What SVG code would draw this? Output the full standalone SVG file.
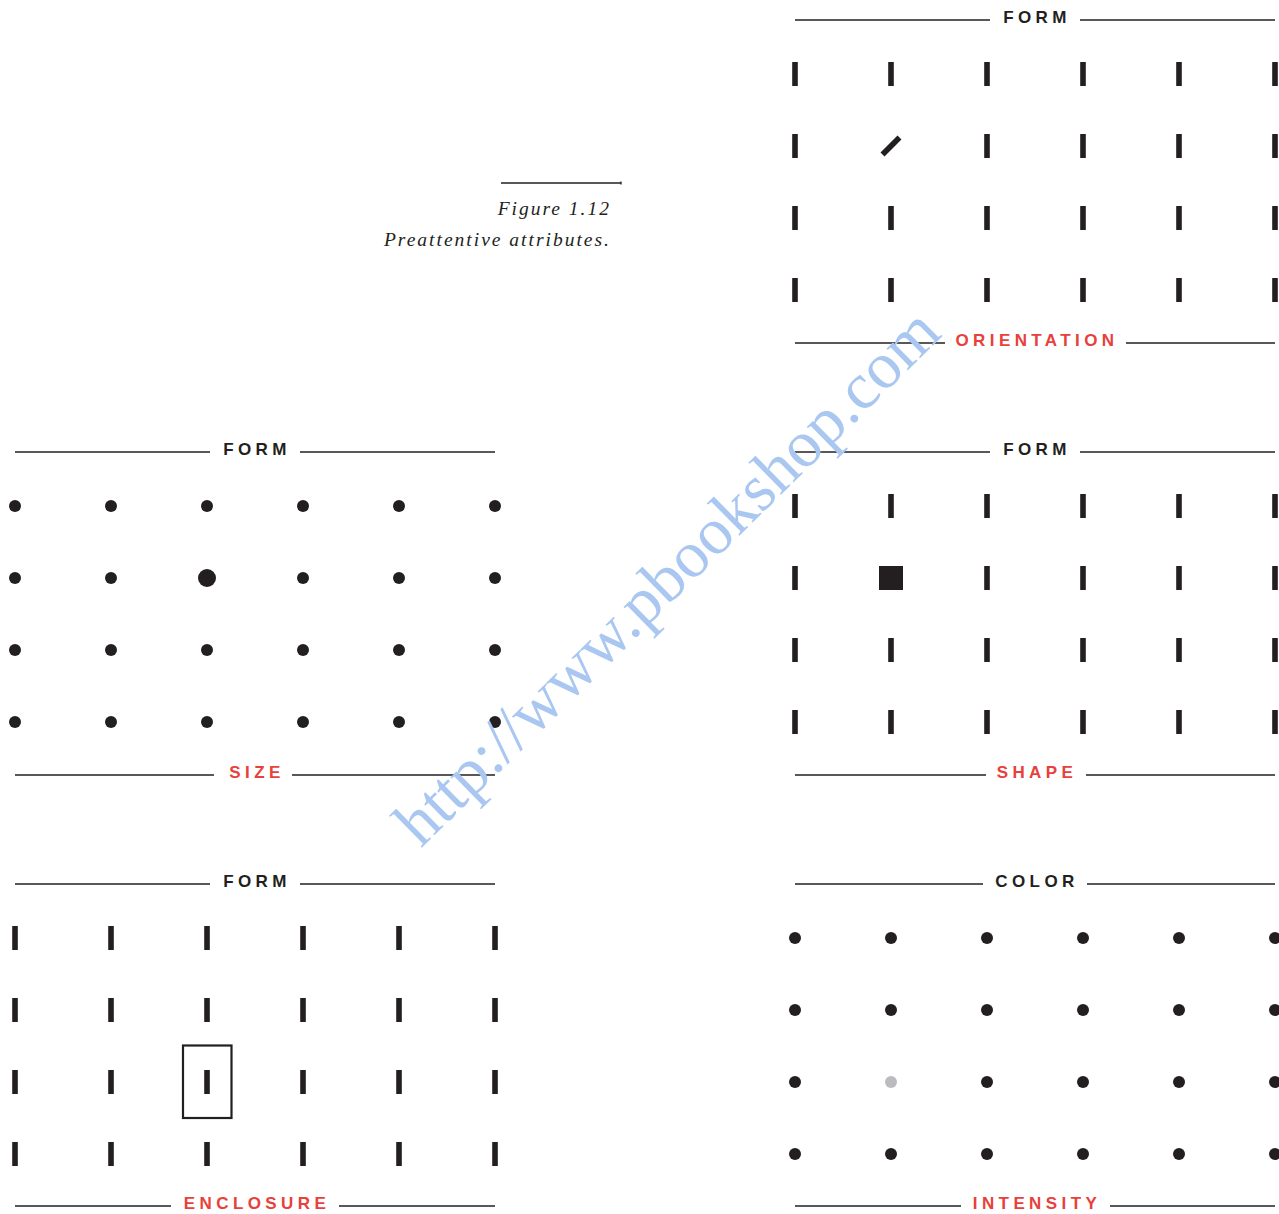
<svg xmlns="http://www.w3.org/2000/svg" xmlns:xlink="http://www.w3.org/1999/xlink" width="1279" height="1214" viewBox="0 0 1279 1214">
<style>
.ln{stroke:#231f20;stroke-width:1.3;fill:none}
.ttl{font-family:"Liberation Sans",Arial,sans-serif;font-size:17px;font-weight:bold;letter-spacing:4.4px;fill:#231f20;text-anchor:middle}
.red{fill:#e8403a}
.cap{font-family:"Liberation Serif","Times New Roman",serif;font-style:italic;font-size:19.5px;letter-spacing:2px;fill:#231f20;text-anchor:end}
.wm{font-family:"Liberation Serif","Times New Roman",serif;font-size:66px;fill:#a9c7f0;text-anchor:middle}
</style>
<defs>
<rect id="bar" x="-2.8" y="-12" width="5.6" height="24" fill="#231f20"/>
<circle id="dot" r="6" fill="#231f20"/>
</defs>
<rect width="1279" height="1214" fill="#ffffff"/>

<g id="caption">
<line class="ln" x1="501" y1="183" x2="621" y2="183"/>
<line class="ln" x1="621" y1="181.5" x2="621" y2="184.5"/>
<text class="cap" x="611" y="215">Figure 1.12</text>
<text class="cap" x="611" y="246">Preattentive attributes.</text>
</g>

<g id="orientation">
<line class="ln" x1="795" y1="20" x2="990" y2="20"/>
<line class="ln" x1="1080" y1="20" x2="1275" y2="20"/>
<text class="ttl" x="1037" y="23">FORM</text>
<g id="orientation-marks">
<use href="#bar" x="795" y="74"/><use href="#bar" x="891" y="74"/><use href="#bar" x="987" y="74"/><use href="#bar" x="1083" y="74"/><use href="#bar" x="1179" y="74"/><use href="#bar" x="1275" y="74"/>
<use href="#bar" x="795" y="146"/><use href="#bar" transform="translate(891 146) rotate(45)"/><use href="#bar" x="987" y="146"/><use href="#bar" x="1083" y="146"/><use href="#bar" x="1179" y="146"/><use href="#bar" x="1275" y="146"/>
<use href="#bar" x="795" y="218"/><use href="#bar" x="891" y="218"/><use href="#bar" x="987" y="218"/><use href="#bar" x="1083" y="218"/><use href="#bar" x="1179" y="218"/><use href="#bar" x="1275" y="218"/>
<use href="#bar" x="795" y="290"/><use href="#bar" x="891" y="290"/><use href="#bar" x="987" y="290"/><use href="#bar" x="1083" y="290"/><use href="#bar" x="1179" y="290"/><use href="#bar" x="1275" y="290"/>
</g>
<line class="ln" x1="795" y1="343" x2="945" y2="343"/>
<line class="ln" x1="1126" y1="343" x2="1275" y2="343"/>
<text class="ttl red" x="1037" y="346">ORIENTATION</text>
</g>

<g id="size">
<line class="ln" x1="15" y1="452" x2="210" y2="452"/>
<line class="ln" x1="300" y1="452" x2="495" y2="452"/>
<text class="ttl" x="257" y="455">FORM</text>
<g id="size-marks">
<use href="#dot" x="15" y="506"/><use href="#dot" x="111" y="506"/><use href="#dot" x="207" y="506"/><use href="#dot" x="303" y="506"/><use href="#dot" x="399" y="506"/><use href="#dot" x="495" y="506"/>
<use href="#dot" x="15" y="578"/><use href="#dot" x="111" y="578"/><circle cx="207" cy="578" r="9" fill="#231f20"/><use href="#dot" x="303" y="578"/><use href="#dot" x="399" y="578"/><use href="#dot" x="495" y="578"/>
<use href="#dot" x="15" y="650"/><use href="#dot" x="111" y="650"/><use href="#dot" x="207" y="650"/><use href="#dot" x="303" y="650"/><use href="#dot" x="399" y="650"/><use href="#dot" x="495" y="650"/>
<use href="#dot" x="15" y="722"/><use href="#dot" x="111" y="722"/><use href="#dot" x="207" y="722"/><use href="#dot" x="303" y="722"/><use href="#dot" x="399" y="722"/><use href="#dot" x="495" y="722"/>
</g>
<line class="ln" x1="15" y1="775" x2="214" y2="775"/>
<line class="ln" x1="292" y1="775" x2="495" y2="775"/>
<text class="ttl red" x="257" y="778">SIZE</text>
</g>

<g id="shape">
<line class="ln" x1="795" y1="452" x2="990" y2="452"/>
<line class="ln" x1="1080" y1="452" x2="1275" y2="452"/>
<text class="ttl" x="1037" y="455">FORM</text>
<g id="shape-marks">
<use href="#bar" x="795" y="506"/><use href="#bar" x="891" y="506"/><use href="#bar" x="987" y="506"/><use href="#bar" x="1083" y="506"/><use href="#bar" x="1179" y="506"/><use href="#bar" x="1275" y="506"/>
<use href="#bar" x="795" y="578"/><rect x="879" y="566" width="24" height="24" fill="#231f20"/><use href="#bar" x="987" y="578"/><use href="#bar" x="1083" y="578"/><use href="#bar" x="1179" y="578"/><use href="#bar" x="1275" y="578"/>
<use href="#bar" x="795" y="650"/><use href="#bar" x="891" y="650"/><use href="#bar" x="987" y="650"/><use href="#bar" x="1083" y="650"/><use href="#bar" x="1179" y="650"/><use href="#bar" x="1275" y="650"/>
<use href="#bar" x="795" y="722"/><use href="#bar" x="891" y="722"/><use href="#bar" x="987" y="722"/><use href="#bar" x="1083" y="722"/><use href="#bar" x="1179" y="722"/><use href="#bar" x="1275" y="722"/>
</g>
<line class="ln" x1="795" y1="775" x2="986" y2="775"/>
<line class="ln" x1="1086" y1="775" x2="1275" y2="775"/>
<text class="ttl red" x="1037" y="778">SHAPE</text>
</g>

<g id="enclosure">
<line class="ln" x1="15" y1="884" x2="210" y2="884"/>
<line class="ln" x1="300" y1="884" x2="495" y2="884"/>
<text class="ttl" x="257" y="887">FORM</text>
<g id="enclosure-marks">
<use href="#bar" x="15" y="938"/><use href="#bar" x="111" y="938"/><use href="#bar" x="207" y="938"/><use href="#bar" x="303" y="938"/><use href="#bar" x="399" y="938"/><use href="#bar" x="495" y="938"/>
<use href="#bar" x="15" y="1010"/><use href="#bar" x="111" y="1010"/><use href="#bar" x="207" y="1010"/><use href="#bar" x="303" y="1010"/><use href="#bar" x="399" y="1010"/><use href="#bar" x="495" y="1010"/>
<use href="#bar" x="15" y="1082"/><use href="#bar" x="111" y="1082"/><use href="#bar" x="207" y="1082"/><use href="#bar" x="303" y="1082"/><use href="#bar" x="399" y="1082"/><use href="#bar" x="495" y="1082"/>
<use href="#bar" x="15" y="1154"/><use href="#bar" x="111" y="1154"/><use href="#bar" x="207" y="1154"/><use href="#bar" x="303" y="1154"/><use href="#bar" x="399" y="1154"/><use href="#bar" x="495" y="1154"/>
<rect x="183" y="1045.5" width="48.5" height="72.5" fill="none" stroke="#231f20" stroke-width="2.2"/>
</g>
<line class="ln" x1="15" y1="1206" x2="171" y2="1206"/>
<line class="ln" x1="339" y1="1206" x2="495" y2="1206"/>
<text class="ttl red" x="257" y="1209">ENCLOSURE</text>
</g>

<g id="intensity">
<line class="ln" x1="795" y1="884" x2="983" y2="884"/>
<line class="ln" x1="1087" y1="884" x2="1275" y2="884"/>
<text class="ttl" x="1037" y="887">COLOR</text>
<g id="intensity-marks">
<use href="#dot" x="795" y="938"/><use href="#dot" x="891" y="938"/><use href="#dot" x="987" y="938"/><use href="#dot" x="1083" y="938"/><use href="#dot" x="1179" y="938"/><use href="#dot" x="1275" y="938"/>
<use href="#dot" x="795" y="1010"/><use href="#dot" x="891" y="1010"/><use href="#dot" x="987" y="1010"/><use href="#dot" x="1083" y="1010"/><use href="#dot" x="1179" y="1010"/><use href="#dot" x="1275" y="1010"/>
<use href="#dot" x="795" y="1082"/><circle cx="891" cy="1082" r="6" fill="#bcbcc0"/><use href="#dot" x="987" y="1082"/><use href="#dot" x="1083" y="1082"/><use href="#dot" x="1179" y="1082"/><use href="#dot" x="1275" y="1082"/>
<use href="#dot" x="795" y="1154"/><use href="#dot" x="891" y="1154"/><use href="#dot" x="987" y="1154"/><use href="#dot" x="1083" y="1154"/><use href="#dot" x="1179" y="1154"/><use href="#dot" x="1275" y="1154"/>
</g>
<line class="ln" x1="795" y1="1206" x2="961" y2="1206"/>
<line class="ln" x1="1110" y1="1206" x2="1275" y2="1206"/>
<text class="ttl red" x="1037" y="1209">INTENSITY</text>
</g>

<g id="connectors"/>

<g id="watermark">
<text class="wm" transform="translate(682 592) rotate(-44.5)" x="0" y="0">http://www.pbookshop.com</text>
</g>
</svg>
